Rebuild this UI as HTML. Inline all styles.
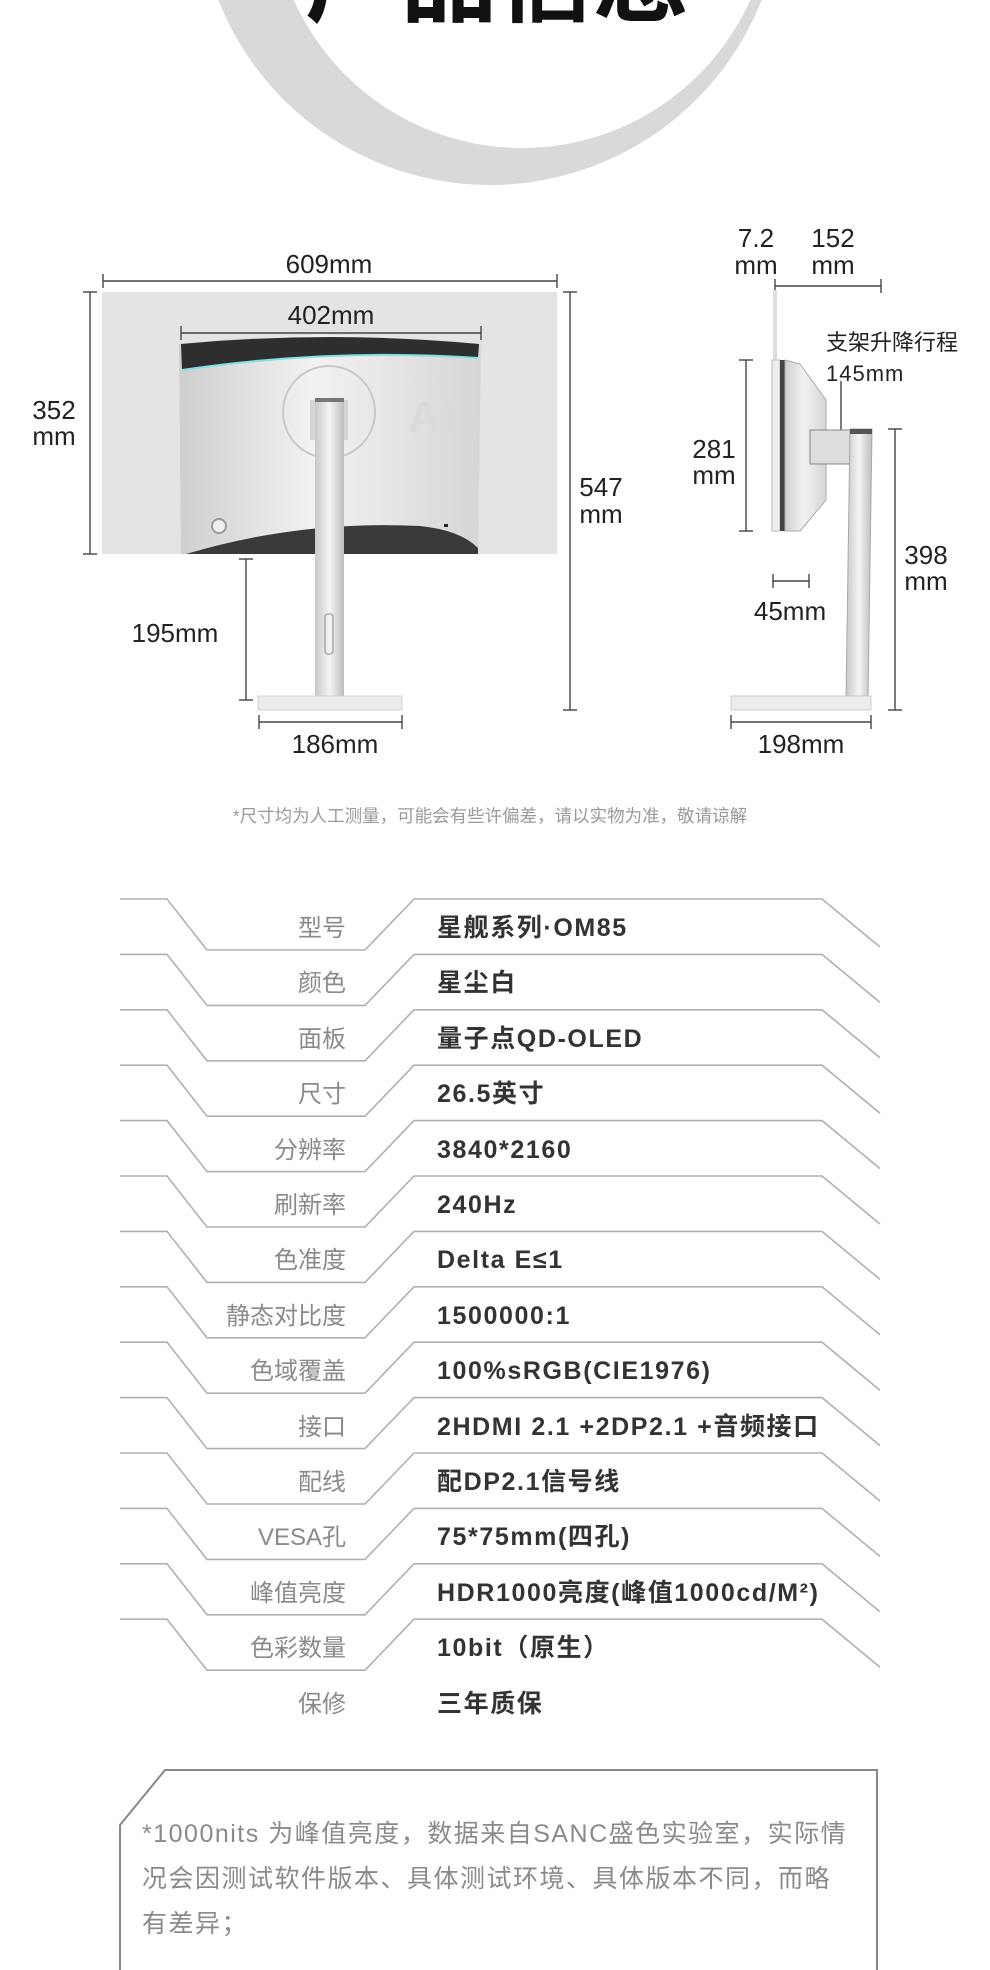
<!DOCTYPE html>
<html><head><meta charset="utf-8"><style>
html,body{margin:0;padding:0;background:#fff;}
svg{display:block;}
.d{font-family:"Liberation Sans","Noto Sans CJK SC",sans-serif;font-size:26px;fill:#222;}
.lb{font-family:"Liberation Sans","Noto Sans CJK SC",sans-serif;font-size:24px;fill:#8a8a8a;text-anchor:end;}
.vl{font-family:"Liberation Sans","Noto Sans CJK SC",sans-serif;font-size:25px;font-weight:bold;fill:#333;letter-spacing:1.6px;}
.nt{font-family:"Liberation Sans","Noto Sans CJK SC",sans-serif;font-size:25px;fill:#8a8a8a;letter-spacing:1.5px;}
</style></head><body>
<svg width="990" height="1970" viewBox="0 0 990 1970" xmlns="http://www.w3.org/2000/svg">
<defs>
<linearGradient id="sil" x1="0" x2="1" y1="0" y2="0">
<stop offset="0" stop-color="#cfcfcf"/><stop offset="0.45" stop-color="#f2f2f2"/><stop offset="1" stop-color="#d6d6d6"/></linearGradient>
<linearGradient id="col" x1="0" x2="1"><stop offset="0" stop-color="#c8c8c8"/><stop offset="0.5" stop-color="#f4f4f4"/><stop offset="1" stop-color="#bdbdbd"/></linearGradient>
<g id="row"><polyline points="120,-29 167,-29 207,22 365,22 414,-29 822,-29 880,19" fill="none" stroke="#b0b0b0" stroke-width="1.6"/></g>
</defs>

<!-- crescent -->
<circle cx="490" cy="-107" r="292" fill="#d9d9d9"/>
<circle cx="522" cy="-102" r="250" fill="#fff"/>
<text x="497" y="14" text-anchor="middle" font-family="Liberation Sans,Noto Sans CJK SC,sans-serif" font-weight="bold" font-size="96" fill="#111">产品信息</text>

<!-- front view -->
<rect x="102" y="292" width="455" height="262" fill="#e4e4e4"/>
<path d="M179,344 Q330,326 481,344 L478,554 L181,554 Z" fill="url(#sil)"/>
<path d="M181,344 Q330,330 479,344 L478,358 Q330,348 182,370 Z" fill="#2e2e2e"/>
<path d="M182,370 Q330,348 478,358" fill="none" stroke="#7fe0e6" stroke-width="2"/>
<path d="M186,554 Q300,520 420,526 Q460,530 478,548 L478,554 Z" fill="#3a3a3a"/>
<circle cx="329" cy="412" r="46" fill="none" stroke="#c8c8c8" stroke-width="2"/>
<rect x="310" y="400" width="38" height="40" fill="#d5d5d5"/>
<text x="430" y="432" text-anchor="middle" font-family="Liberation Sans,sans-serif" font-weight="bold" font-size="44" fill="#dadada">AI</text>
<circle cx="219" cy="526" r="7" fill="#f0f0f0" stroke="#999" stroke-width="2"/>
<rect x="444" y="524" width="4" height="3" fill="#222"/>
<rect x="315" y="398" width="29" height="302" fill="url(#col)"/>
<rect x="315" y="398" width="29" height="4" fill="#777"/>
<rect x="325" y="614" width="8" height="40" rx="3" fill="none" stroke="#aaa" stroke-width="1.5"/>
<rect x="258" y="696" width="144" height="14" fill="#ececec" stroke="#d2d2d2"/>

<g stroke="#444" stroke-width="1.4" fill="none">
<line x1="103" y1="281" x2="557" y2="281"/><line x1="103" y1="274" x2="103" y2="288"/><line x1="557" y1="274" x2="557" y2="288"/>
<line x1="181" y1="333" x2="481" y2="333"/><line x1="181" y1="326" x2="181" y2="340"/><line x1="481" y1="326" x2="481" y2="340"/>
<line x1="90" y1="292" x2="90" y2="554"/><line x1="83" y1="292" x2="97" y2="292"/><line x1="83" y1="554" x2="97" y2="554"/>
<line x1="570" y1="292" x2="570" y2="710"/><line x1="563" y1="292" x2="577" y2="292"/><line x1="563" y1="710" x2="577" y2="710"/>
<line x1="246" y1="559" x2="246" y2="700"/><line x1="239" y1="559" x2="253" y2="559"/><line x1="239" y1="700" x2="253" y2="700"/>
<line x1="259" y1="722" x2="402" y2="722"/><line x1="259" y1="715" x2="259" y2="729"/><line x1="402" y1="715" x2="402" y2="729"/>
<line x1="775" y1="286" x2="881" y2="286"/><line x1="775" y1="279" x2="775" y2="293"/><line x1="881" y1="279" x2="881" y2="293"/>
<line x1="746" y1="360" x2="746" y2="531"/><line x1="739" y1="360" x2="753" y2="360"/><line x1="739" y1="531" x2="753" y2="531"/>
<line x1="773" y1="581" x2="809" y2="581"/><line x1="773" y1="574" x2="773" y2="588"/><line x1="809" y1="574" x2="809" y2="588"/>
<line x1="841" y1="381" x2="841" y2="431"/>
<line x1="895" y1="429" x2="895" y2="710"/><line x1="888" y1="429" x2="902" y2="429"/><line x1="888" y1="710" x2="902" y2="710"/>
<line x1="731" y1="722" x2="871" y2="722"/><line x1="731" y1="715" x2="731" y2="729"/><line x1="871" y1="715" x2="871" y2="729"/>
</g>
<text class="d" x="329" y="273" text-anchor="middle">609mm</text>
<text class="d" x="331" y="324" text-anchor="middle">402mm</text>
<text class="d" x="54" y="419" text-anchor="middle">352</text><text class="d" x="54" y="445" text-anchor="middle">mm</text>
<text class="d" x="601" y="496" text-anchor="middle">547</text><text class="d" x="601" y="523" text-anchor="middle">mm</text>
<text class="d" x="175" y="642" text-anchor="middle">195mm</text>
<text class="d" x="335" y="753" text-anchor="middle">186mm</text>
<text class="d" x="756" y="247" text-anchor="middle">7.2</text><text class="d" x="756" y="274" text-anchor="middle">mm</text>
<text class="d" x="833" y="247" text-anchor="middle">152</text><text class="d" x="833" y="274" text-anchor="middle">mm</text>
<text class="d" x="714" y="458" text-anchor="middle">281</text><text class="d" x="714" y="484" text-anchor="middle">mm</text>
<text class="d" x="790" y="620" text-anchor="middle">45mm</text>
<text class="d" x="926" y="564" text-anchor="middle">398</text><text class="d" x="926" y="590" text-anchor="middle">mm</text>
<text class="d" x="801" y="753" text-anchor="middle">198mm</text>
<text x="826" y="350" font-family="Liberation Sans,Noto Sans CJK SC,sans-serif" font-size="22" fill="#222">支架升降行程</text>
<text x="826" y="381" font-family="Liberation Sans,sans-serif" font-size="22" fill="#222" letter-spacing="1">145mm</text>

<!-- side view -->
<line x1="775" y1="290" x2="775" y2="360" stroke="#ddd" stroke-width="4"/>
<rect x="772" y="360" width="8" height="171" fill="#eee" stroke="#bbb"/>
<rect x="780" y="360" width="5" height="171" fill="#444"/>
<polygon points="785,360 800,364 826,400 826,500 800,531 785,531" fill="url(#sil)" stroke="#aaa"/>
<rect x="810" y="430" width="40" height="34" fill="#ddd" stroke="#888"/>
<polygon points="850,429 872,429 868,700 846,700" fill="url(#col)" stroke="#aaa"/>
<rect x="850" y="429" width="22" height="5" fill="#555"/>
<rect x="731" y="696" width="140" height="14" fill="#ececec" stroke="#ccc"/>

<text x="490" y="822" text-anchor="middle" font-family="Liberation Sans,Noto Sans CJK SC,sans-serif" font-size="17.5" fill="#9a9a9a">*尺寸均为人工测量，可能会有些许偏差，请以实物为准，敬请谅解</text>

<!-- spec rows -->
<use href="#row" y="928"/><use href="#row" y="983.4"/><use href="#row" y="1038.8"/><use href="#row" y="1094.2"/>
<use href="#row" y="1149.6"/><use href="#row" y="1205"/><use href="#row" y="1260.4"/><use href="#row" y="1315.8"/>
<use href="#row" y="1371.2"/><use href="#row" y="1426.6"/><use href="#row" y="1482"/><use href="#row" y="1537.4"/>
<use href="#row" y="1592.8"/><use href="#row" y="1648.2"/>

<text class="lb" x="346" y="936">型号</text><text class="vl" x="437" y="936">星舰系列·OM85</text>
<text class="lb" x="346" y="991">颜色</text><text class="vl" x="437" y="991">星尘白</text>
<text class="lb" x="346" y="1047">面板</text><text class="vl" x="437" y="1047">量子点QD-OLED</text>
<text class="lb" x="346" y="1102">尺寸</text><text class="vl" x="437" y="1102">26.5英寸</text>
<text class="lb" x="346" y="1158">分辨率</text><text class="vl" x="437" y="1158">3840*2160</text>
<text class="lb" x="346" y="1213">刷新率</text><text class="vl" x="437" y="1213">240Hz</text>
<text class="lb" x="346" y="1268">色准度</text><text class="vl" x="437" y="1268">Delta E≤1</text>
<text class="lb" x="346" y="1324">静态对比度</text><text class="vl" x="437" y="1324">1500000:1</text>
<text class="lb" x="346" y="1379">色域覆盖</text><text class="vl" x="437" y="1379">100%sRGB(CIE1976)</text>
<text class="lb" x="346" y="1435">接口</text><text class="vl" x="437" y="1435">2HDMI 2.1 +2DP2.1 +音频接口</text>
<text class="lb" x="346" y="1490">配线</text><text class="vl" x="437" y="1490">配DP2.1信号线</text>
<text class="lb" x="346" y="1545">VESA孔</text><text class="vl" x="437" y="1545">75*75mm(四孔)</text>
<text class="lb" x="346" y="1601">峰值亮度</text><text class="vl" x="437" y="1601">HDR1000亮度(峰值1000cd/M²)</text>
<text class="lb" x="346" y="1656">色彩数量</text><text class="vl" x="437" y="1656">10bit（原生）</text>
<text class="lb" x="346" y="1712">保修</text><text class="vl" x="437" y="1712">三年质保</text>

<!-- note box -->
<polyline points="120,1975 120,1825 165,1770 877,1770 877,1975" fill="none" stroke="#888" stroke-width="2"/>
<text class="nt" x="142" y="1842">*1000nits 为峰值亮度，数据来自SANC盛色实验室，实际情</text>
<text class="nt" x="142" y="1887">况会因测试软件版本、具体测试环境、具体版本不同，而略</text>
<text class="nt" x="142" y="1932">有差异；</text>
</svg>
</body></html>
